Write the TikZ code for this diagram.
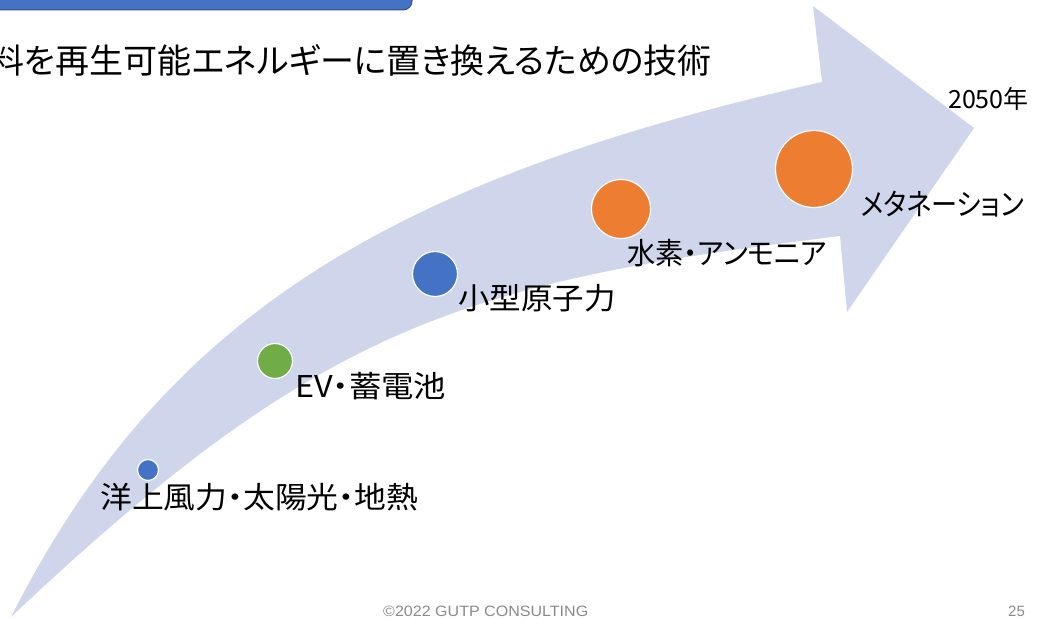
\documentclass[tikz,border=0pt]{standalone}
\usepackage{fontspec}
\newfontfamily\jp{Noto Sans CJK JP}[RawFeature=+palt]
\newfontfamily\ft{Liberation Sans}
\definecolor{arrowfill}{HTML}{CFD5EA}
\definecolor{oblue}{HTML}{4472C4}
\definecolor{ogreen}{HTML}{70AD47}
\definecolor{oorange}{HTML}{ED7D31}
\definecolor{dblue}{HTML}{2F528F}
\definecolor{footgray}{HTML}{8A8A8A}
\begin{document}
\begin{tikzpicture}[x=1pt,y=-1pt,
  dot/.style={circle, draw=white, line width=1.2pt, inner sep=0pt, minimum size=#1},
  lbl/.style={anchor=west, inner sep=0pt, font=\jp\fontsize{30}{32}\selectfont},
  foot/.style={anchor=west, inner sep=0pt, text=footgray, font=\ft\fontsize{15}{17}\selectfont},
]
\useasboundingbox (0,0) rectangle (1043,618);
% banner
\draw[fill=oblue, draw=dblue, line width=1pt, rounded corners=9pt] (-20,-30) rectangle (412,10);
% big curved arrow
\fill[arrowfill] (11,617) .. controls (163,317) and (388,180) .. (822,82)
  -- (813,6) -- (974,128) -- (847,312) -- (840,236)
  .. controls (465,282) and (322,323) .. (11,617) -- cycle;
% title
\node[anchor=east, inner sep=0pt, font=\jp\fontsize{34}{36}\selectfont] (title) at (712,60)
  {料を再生可能エネルギーに置き換えるための技術};
% circles
\node[dot=21pt, fill=oblue]   (c1) at (148,470) {};
\node[dot=35pt, fill=ogreen]  (c2) at (275,361) {};
\node[dot=45pt, fill=oblue]   (c3) at (435,274) {};
\node[dot=59pt, fill=oorange] (c4) at (621,209) {};
\node[dot=77pt, fill=oorange] (c5) at (814,169) {};
% labels
\node[lbl] (l1) at (100,497) {\scalebox{1.06}[1]{洋上風力・太陽光・地熱}};
\node[lbl] (l2) at (295,386) {\scalebox{1.08}[1]{EV・蓄電池}};
\node[lbl] (l3) at (458,298) {\scalebox{1.05}[1]{小型原子力}};
\node[lbl] (l4) at (627,253) {\scalebox{0.94}[1]{水素・アンモニア}};
\node[lbl] (l5) at (861,204) {\scalebox{0.87}[1]{メタネーション}};
\node[anchor=west, inner sep=0pt, font=\jp\fontsize{25}{27}\selectfont] (year) at (948,99) {2050年};
% footer
\node[foot] (copy) at (383,611) {\scalebox{1.07}[1]{©2022 GUTP CONSULTING}};
\node[foot] (page) at (1008,611) {25};
\end{tikzpicture}
\end{document}
